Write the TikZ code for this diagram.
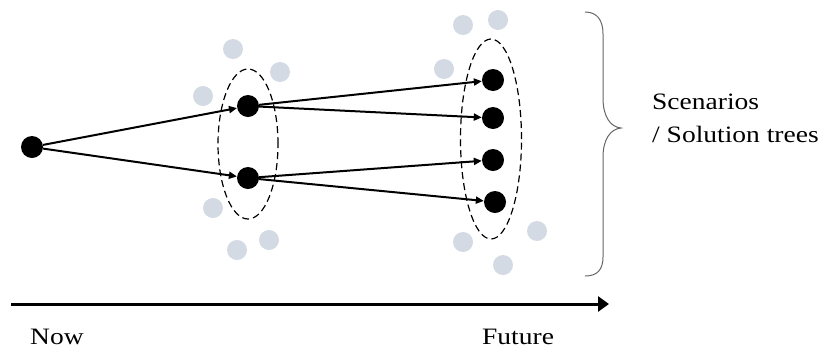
\documentclass[tikz,border=0pt]{standalone}
\usepackage{fontspec}
\setmainfont{Liberation Serif}[FakeStretch=1.17]
\usetikzlibrary{arrows.meta,shapes.geometric}
\definecolor{haze}{RGB}{211,218,228}
\tikzset{
  dot/.style={circle,fill=black,inner sep=0pt,minimum size=22pt},
  ghost/.style={circle,fill=haze,inner sep=0pt,minimum size=20pt},
  group/.style={ellipse,draw,dashed,dash pattern=on 7pt off 4pt,line width=1.2pt,inner sep=0pt},
  arr/.style={line width=2pt,-{Triangle[length=8pt,width=7pt]}},
  lbl/.style={font=\fontsize{23.5}{27}\selectfont,anchor=base west,inner sep=0pt},
}
\begin{document}
\begin{tikzpicture}[x=1pt,y=-1pt]
\useasboundingbox (0,0) rectangle (827,349);
% faint alternative states
\foreach \p [count=\i] in {(233,49),(280,72),(203,96),(213,208),(269,240),(237,250),
                          (463,25),(498,20),(444,69),(463,242),(537,231),(503,265)}
  \node[ghost] (g\i) at \p {};
% state groups
\node[group,minimum width=60pt,minimum height=150pt] (e1) at (248,144) {};
\node[group,minimum width=61pt,minimum height=200pt] (e2) at (491,139) {};
% states
\node[dot] (root) at (32,147) {};
\node[dot] (m1) at (248,106) {};
\node[dot] (m2) at (248,178) {};
\node[dot] (f1) at (493,80) {};
\node[dot] (f2) at (493,118) {};
\node[dot] (f3) at (493,160) {};
\node[dot] (f4) at (495,202) {};
% transitions
\draw[arr] (root) -- (m1);
\draw[arr] (root) -- (m2);
\draw[arr] (m1) -- (f1);
\draw[arr] (m1) -- (f2);
\draw[arr] (m2) -- (f3);
\draw[arr] (m2) -- (f4);
% brace
\draw[line width=1pt,black!60] (585,12) .. controls (597,12) and (603,20) .. (603,34)
  -- (603,98) .. controls (603,116) and (610,127) .. (621,128)
  .. controls (610,129) and (603,140) .. (603,157)
  -- (603,257) .. controls (603,270) and (597,276) .. (585,276);
\node[lbl] (sc) at (652,109) {Scenarios};
\node[lbl] (st) at (652,142) {/ Solution trees};
% time axis
\coordinate (t0) at (11,304);
\coordinate (t1) at (609,304);
\draw[line width=3pt,-{Triangle[length=11pt,width=15pt]}] (t0) -- (t1);
\node[lbl] (now) at (30,344) {Now};
\node[lbl] (fut) at (482,344) {Future};
\end{tikzpicture}
\end{document}
